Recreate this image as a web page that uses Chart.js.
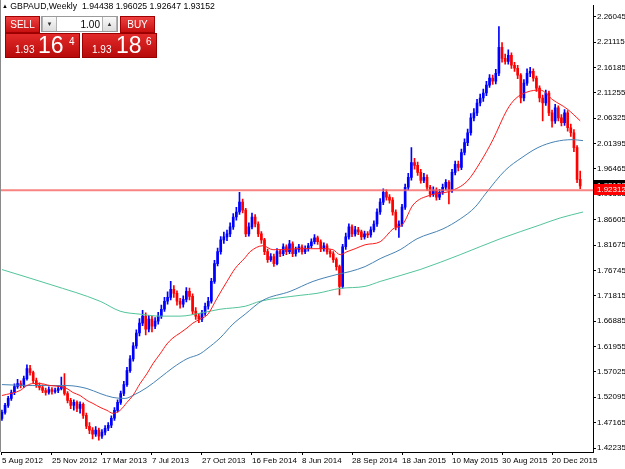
<!DOCTYPE html>
<html><head><meta charset="utf-8">
<script src="https://cdn.jsdelivr.net/npm/chart.js@4.4.1/dist/chart.umd.min.js"></script>
<style>
html,body{margin:0;padding:0;background:#fff;}
#wrap{position:relative;width:625px;height:469px;overflow:hidden;font-family:"Liberation Sans",Arial,sans-serif;}
canvas{position:absolute;left:0;top:0;}
.abs{position:absolute;white-space:pre;line-height:1;}
.title{left:2px;top:2px;font-size:8.7px;color:#000;}
.tri{font-size:6px;position:relative;top:-1px;}
.btn{position:absolute;background:linear-gradient(#ee4040,#c81010);border:1px solid #a00000;color:#fff;font-size:10px;text-align:center;box-sizing:border-box;}
.big{position:absolute;background:linear-gradient(#e32a2a,#b80a0a);border:1px solid #9a0000;box-sizing:border-box;}
.spin{position:absolute;background:#fff;border:1px solid #9a9a9a;box-sizing:border-box;}
.sb{position:absolute;top:0;height:100%;background:linear-gradient(#fafafa,#dcdcdc);border-left:1px solid #b0b0b0;border-right:1px solid #b0b0b0;box-sizing:border-box;font-size:6px;color:#333;text-align:center;line-height:14px;}
.w{color:#fff;position:absolute;line-height:1;white-space:pre;}
</style></head>
<body>
<div id="wrap">
<canvas id="c" width="625" height="469"></canvas>
<div class="abs title"><span class="tri">&#9650;</span> GBPAUD,Weekly  1.94438 1.96025 1.92647 1.93152</div>
<div class="btn" style="left:5px;top:16px;width:35px;height:17px;line-height:15px;">SELL</div>
<div class="spin" style="left:41px;top:16px;width:77px;height:16px;">
  <div class="sb" style="left:0;width:15px;">&#9660;</div>
  <div class="abs" style="right:17px;top:3px;font-size:10px;color:#000;">1.00</div>
  <div class="sb" style="right:0;width:15px;">&#9650;</div>
</div>
<div class="btn" style="left:120px;top:16px;width:35px;height:17px;line-height:15px;">BUY</div>
<div class="big" style="left:5px;top:33px;width:75px;height:25px;">
  <span class="w" style="left:9px;top:11px;font-size:10px;">1.93</span>
  <span class="w" style="left:32px;top:0px;font-size:23px;">16</span>
  <span class="w" style="left:63px;top:3px;font-size:10px;">4</span>
</div>
<div class="big" style="left:82px;top:33px;width:75px;height:25px;">
  <span class="w" style="left:9px;top:11px;font-size:10px;">1.93</span>
  <span class="w" style="left:33px;top:0px;font-size:23px;">18</span>
  <span class="w" style="left:63px;top:3px;font-size:10px;">6</span>
</div>
</div>
<script>
const dateLabels = ['5 Aug 2012','25 Nov 2012','17 Mar 2013','7 Jul 2013','27 Oct 2013','16 Feb 2014','8 Jun 2014','28 Sep 2014','18 Jan 2015','10 May 2015','30 Aug 2015','20 Dec 2015'];
const dateTickWeeks = [0,16,32,48,64,80,96,112,128,144,160,176];
const yTicks = [2.26045,2.21115,2.16185,2.11255,2.06325,2.01395,1.96465,1.91535,1.86605,1.81675,1.76745,1.71815,1.66885,1.61955,1.57025,1.52095,1.47165,1.42235];
const bidPrice = 1.93152;
const hLinePrice = 1.92312;

const opens = [
1.4800,1.4917,1.5052,1.5187,1.5302,1.5418,1.5476,1.5437,1.5572,1.5765,
1.5688,1.5533,1.5437,1.5399,1.5341,1.5302,1.5360,1.5322,1.5341,1.5379,
1.5418,1.5283,1.5148,1.5052,1.5110,1.4994,1.5071,1.4859,1.4647,1.4570,
1.4493,1.4570,1.4454,1.4531,1.4608,1.4666,1.4801,1.4955,1.5110,1.5283,
1.5456,1.5726,1.5957,1.6208,1.6458,1.6651,1.6786,1.6535,1.6728,1.6593,
1.6689,1.6786,1.6920,1.7075,1.7152,1.7306,1.7229,1.7075,1.7017,1.7113,
1.7267,1.7171,1.6882,1.6786,1.6728,1.6843,1.6978,1.7075,1.7460,1.7807,
1.8038,1.8269,1.8327,1.8385,1.8520,1.8712,1.8809,1.9001,1.8847,1.8385,
1.8520,1.8712,1.8577,1.8385,1.8269,1.8038,1.7884,1.7942,1.7807,1.8038,
1.7999,1.8134,1.8038,1.8192,1.7999,1.8077,1.8134,1.8038,1.8096,1.8154,
1.8231,1.8308,1.8231,1.8096,1.8154,1.8038,1.7999,1.7884,1.7749,1.7364,
1.8134,1.8327,1.8520,1.8385,1.8462,1.8423,1.8327,1.8385,1.8366,1.8462,
1.8577,1.8809,1.9001,1.9194,1.9098,1.9040,1.8809,1.8520,1.8577,1.8905,
1.9290,1.9483,1.9772,1.9714,1.9579,1.9425,1.9483,1.9290,1.9156,1.9233,
1.9098,1.9194,1.9290,1.9387,1.9233,1.9579,1.9734,1.9676,1.9965,2.0158,
2.0350,2.0639,2.0736,2.0928,2.1025,2.1121,2.1275,2.1410,2.1352,2.1506,
2.2008,2.1795,2.1737,2.1853,2.1660,2.1603,2.1468,2.1025,2.1314,2.1506,
2.1545,2.1410,2.1217,2.1025,2.0928,2.1121,2.0736,2.0581,2.0832,2.0639,
2.0543,2.0736,2.0447,2.0350,2.0061,1.9444];
const highs = [
1.4960,1.5090,1.5230,1.5350,1.5470,1.5560,1.5530,1.5620,1.5842,1.5830,
1.5720,1.5580,1.5490,1.5450,1.5390,1.5410,1.5400,1.5390,1.5430,1.5600,
1.5668,1.5320,1.5190,1.5160,1.5140,1.5120,1.5100,1.4900,1.4720,1.4620,
1.4640,1.4610,1.4580,1.4660,1.4720,1.4850,1.5010,1.5160,1.5330,1.5520,
1.5790,1.6020,1.6270,1.6520,1.6740,1.6900,1.6850,1.6800,1.6780,1.6760,
1.6860,1.7000,1.7150,1.7260,1.7460,1.7380,1.7280,1.7130,1.7180,1.7340,
1.7330,1.7220,1.6950,1.6840,1.6900,1.7040,1.7150,1.7520,1.7870,1.8110,
1.8330,1.8420,1.8460,1.8600,1.8780,1.8900,1.9194,1.9060,1.8880,1.8600,
1.8790,1.8760,1.8620,1.8430,1.8300,1.8090,1.8000,1.7990,1.8100,1.8080,
1.8190,1.8170,1.8260,1.8230,1.8130,1.8180,1.8170,1.8150,1.8200,1.8290,
1.8370,1.8340,1.8270,1.8210,1.8190,1.8080,1.8040,1.7920,1.7780,1.8180,
1.8400,1.8580,1.8560,1.8530,1.8510,1.8460,1.8440,1.8430,1.8520,1.8640,
1.8870,1.9070,1.9260,1.9240,1.9150,1.9090,1.8850,1.8640,1.8960,1.9350,
1.9560,2.0061,1.9850,1.9780,1.9640,1.9560,1.9530,1.9330,1.9300,1.9280,
1.9250,1.9350,1.9440,1.9420,1.9640,1.9800,1.9800,2.0030,2.0230,2.0420,
2.0720,2.0820,2.1000,2.1100,2.1200,2.1350,2.1480,2.1470,2.1580,2.2412,
2.2100,2.1880,2.1960,2.1900,2.1720,2.1660,2.1500,2.1380,2.1590,2.1620,
2.1590,2.1450,2.1260,2.1080,2.1180,2.1160,2.0790,2.0900,2.0870,2.0700,
2.0800,2.0780,2.0520,2.0410,2.0100,1.9603];
const lows = [
1.4760,1.4880,1.5010,1.5150,1.5260,1.5380,1.5390,1.5400,1.5540,1.5640,
1.5490,1.5400,1.5350,1.5300,1.5250,1.5270,1.5270,1.5290,1.5300,1.5350,
1.5250,1.5100,1.4990,1.4960,1.4930,1.4900,1.4800,1.4600,1.4500,1.4400,
1.4450,1.4377,1.4410,1.4480,1.4560,1.4620,1.4760,1.4920,1.5070,1.5240,
1.5420,1.5690,1.5910,1.6160,1.6400,1.6600,1.6420,1.6480,1.6480,1.6540,
1.6630,1.6740,1.6880,1.7020,1.7100,1.7150,1.7000,1.6940,1.6960,1.7060,
1.7100,1.6820,1.6720,1.6660,1.6680,1.6800,1.6920,1.7040,1.7420,1.7760,
1.7990,1.8200,1.8250,1.8330,1.8470,1.8650,1.8760,1.8790,1.8330,1.8340,
1.8480,1.8520,1.8330,1.8200,1.7980,1.7830,1.7850,1.7750,1.7780,1.7940,
1.7960,1.7980,1.8000,1.7940,1.7950,1.8030,1.7990,1.8000,1.8050,1.8110,
1.8190,1.8180,1.8040,1.8050,1.7990,1.7930,1.7830,1.7680,1.7200,1.7330,
1.8080,1.8280,1.8330,1.8340,1.8370,1.8270,1.8280,1.8310,1.8320,1.8420,
1.8530,1.8760,1.8950,1.9040,1.8980,1.8750,1.8460,1.8316,1.8530,1.8860,
1.9240,1.9430,1.9640,1.9520,1.9370,1.9380,1.9230,1.9100,1.9110,1.9040,
1.9050,1.9150,1.9240,1.8964,1.9190,1.9530,1.9610,1.9630,1.9920,2.0100,
2.0300,2.0580,2.0680,2.0870,2.0960,2.1070,2.1230,2.1290,2.1300,2.1460,
2.1720,2.1680,2.1680,2.1600,2.1540,2.1400,2.0930,2.0970,2.1270,2.1440,
2.1350,2.1150,2.0950,2.0581,2.0880,2.0680,2.0460,2.0530,2.0580,2.0480,
2.0490,2.0380,2.0280,1.9980,1.9380,1.9265];
const closes = [
1.4917,1.5052,1.5187,1.5302,1.5418,1.5476,1.5437,1.5572,1.5765,1.5688,
1.5533,1.5437,1.5399,1.5341,1.5302,1.5360,1.5322,1.5341,1.5379,1.5418,
1.5283,1.5148,1.5052,1.5110,1.4994,1.5071,1.4859,1.4647,1.4570,1.4493,
1.4570,1.4454,1.4531,1.4608,1.4666,1.4801,1.4955,1.5110,1.5283,1.5456,
1.5726,1.5957,1.6208,1.6458,1.6651,1.6786,1.6535,1.6728,1.6593,1.6689,
1.6786,1.6920,1.7075,1.7152,1.7306,1.7229,1.7075,1.7017,1.7113,1.7267,
1.7171,1.6882,1.6786,1.6728,1.6843,1.6978,1.7075,1.7460,1.7807,1.8038,
1.8269,1.8327,1.8385,1.8520,1.8712,1.8809,1.9001,1.8847,1.8385,1.8520,
1.8712,1.8577,1.8385,1.8269,1.8038,1.7884,1.7942,1.7807,1.8038,1.7999,
1.8134,1.8038,1.8192,1.7999,1.8077,1.8134,1.8038,1.8096,1.8154,1.8231,
1.8308,1.8231,1.8096,1.8154,1.8038,1.7999,1.7884,1.7749,1.7364,1.8134,
1.8327,1.8520,1.8385,1.8462,1.8423,1.8327,1.8385,1.8366,1.8462,1.8577,
1.8809,1.9001,1.9194,1.9098,1.9040,1.8809,1.8520,1.8577,1.8905,1.9290,
1.9483,1.9772,1.9714,1.9579,1.9425,1.9483,1.9290,1.9156,1.9233,1.9098,
1.9194,1.9290,1.9387,1.9233,1.9579,1.9734,1.9676,1.9965,2.0158,2.0350,
2.0639,2.0736,2.0928,2.1025,2.1121,2.1275,2.1410,2.1352,2.1506,2.2008,
2.1795,2.1737,2.1853,2.1660,2.1603,2.1468,2.1025,2.1314,2.1506,2.1545,
2.1410,2.1217,2.1025,2.0928,2.1121,2.0736,2.0581,2.0832,2.0639,2.0543,
2.0736,2.0447,2.0350,2.0061,1.9444,1.9315];

// moving averages as [week index, value]
const maFast = [[0,1.5244],[5.8,1.5341],[8,1.5437],[9.9,1.5476],[12.2,1.5476],[15.4,1.5437],[18.6,1.5418],[20.8,1.5379],[22.7,1.5302],[25,1.5244],[27.2,1.5148],[29.1,1.5090],[31.4,1.5013],[33.6,1.4955],[35.5,1.4897],[37.8,1.4955],[40,1.5110],[41.9,1.5244],[44.2,1.5476],[46.4,1.5668],[48.3,1.5861],[50.6,1.6053],[52.8,1.6246],[54.7,1.6362],[57,1.6458],[59.2,1.6555],[61.1,1.6651],[63.4,1.6728],[65.9,1.6824],[68.8,1.7133],[72,1.7460],[74.6,1.7711],[77.8,1.7922],[79.4,1.8038],[83.5,1.8154],[86.7,1.8077],[89.9,1.8077],[94.4,1.8096],[98.6,1.8096],[102.7,1.8096],[105.9,1.8077],[108.2,1.7980],[110.4,1.8038],[113,1.8096],[116.2,1.8173],[121,1.8231],[125.1,1.8480],[128.3,1.8578],[131.5,1.8944],[137,1.9137],[143.4,1.9214],[148.8,1.9406],[153,1.9772],[157.1,2.0216],[161.6,2.0793],[164.2,2.1005],[168,2.1140],[172.2,2.1179],[176.3,2.0986],[180.8,2.0813],[185,2.0582]];
const maMid = [[0,1.5456],[9.9,1.5437],[20.8,1.5437],[27.2,1.5379],[31.4,1.5283],[35.5,1.5206],[39.4,1.5187],[41.9,1.5244],[46.4,1.5399],[50.6,1.5591],[54.7,1.5784],[59.2,1.5957],[63.4,1.6053],[65.6,1.6150],[69.8,1.6362],[73.9,1.6631],[77.8,1.6824],[83.5,1.7094],[92.2,1.7267],[99.5,1.7460],[107.2,1.7595],[111.4,1.7653],[116.2,1.7749],[121,1.7903],[127.4,1.8077],[132.8,1.8289],[141.1,1.8481],[146.6,1.8674],[151.4,1.8905],[154.6,1.9155],[161,1.9618],[166.4,1.9869],[171.5,2.0061],[177,2.0177],[182.4,2.0215],[185.9,2.0196]];
const maSlow = [[0,1.7691],[15.4,1.7402],[31.4,1.7075],[37.8,1.6882],[44.2,1.6824],[50.6,1.6786],[57,1.6786],[63.4,1.6843],[69.8,1.6920],[77.8,1.6978],[82.6,1.7075],[95.4,1.7190],[100.8,1.7229],[108.2,1.7325],[116.2,1.7364],[121,1.7460],[133.8,1.7691],[146.6,1.7980],[159.4,1.8289],[172.2,1.8559],[178.6,1.8694],[185.9,1.8809]];

const upColor = '#0000ff', downColor = '#ff0000';
const candleColors = closes.map((c,i)=> c >= opens[i] ? upColor : downColor);
const wickData = closes.map((c,i)=>({x:i, y:[lows[i], highs[i]]}));
const bodyData = closes.map((c,i)=>({x:i, y:[opens[i], c]}));
const pts = a => a.map(p=>({x:p[0], y:p[1]}));

const FONT = {family:'"Liberation Sans", Arial, sans-serif', size:8};

const overlay = {
  id:'overlay',
  beforeDraw(chart){
    const ctx = chart.ctx;
    ctx.save(); ctx.fillStyle = '#fff'; ctx.fillRect(0,0,chart.width,chart.height); ctx.restore();
  },
  afterDraw(chart){
    const ctx = chart.ctx, ys = chart.scales.y, ca = chart.chartArea;
    ctx.save();
    ctx.fillStyle = '#8a8a8a';
    ctx.fillRect(0, 0, 1, ca.bottom);
    const box = (val, bg) => {
      const py = Math.round(ys.getPixelForValue(val));
      ctx.fillStyle = bg;
      ctx.fillRect(ca.right + 1, py - 6, chart.width - ca.right - 1, 11);
      ctx.fillStyle = '#fff';
      ctx.font = '8px "Liberation Sans", Arial, sans-serif';
      ctx.textBaseline = 'middle'; ctx.textAlign = 'left';
      ctx.fillText(val.toFixed(5), ca.right + 4, py);
    };
    box(bidPrice, '#000');
    box(hLinePrice, '#ff0000');
    ctx.restore();
  }
};

new Chart(document.getElementById('c'), {
  type: 'bar',
  data: { datasets: [
    {type:'line', data:[{x:-1,y:hLinePrice},{x:190,y:hLinePrice}], borderColor:'rgba(245,100,100,0.8)', borderWidth:2, pointRadius:0, order:0},
    {type:'line', data:pts(maFast), borderColor:'#ff1a1a', borderWidth:1, pointRadius:0, cubicInterpolationMode:'monotone', order:1},
    {type:'line', data:pts(maMid), borderColor:'#4682b4', borderWidth:1, pointRadius:0, cubicInterpolationMode:'monotone', order:1},
    {type:'line', data:pts(maSlow), borderColor:'#52c49a', borderWidth:1, pointRadius:0, cubicInterpolationMode:'monotone', order:1},
    {type:'bar', data:bodyData, backgroundColor:candleColors, barThickness:2, minBarLength:1, grouped:false, borderWidth:0, order:2},
    {type:'bar', data:wickData, backgroundColor:candleColors, barThickness:1, grouped:false, borderWidth:0, order:3}
  ]},
  options: {
    responsive:false, animation:false, devicePixelRatio:1,
    layout:{padding:{left:1, top:2, right:0, bottom:0}},
    plugins:{legend:{display:false}, tooltip:{enabled:false}},
    scales:{
      x:{
        type:'linear', min:-0.3, max:189.1, offset:false,
        afterBuildTicks: s => { s.ticks = dateTickWeeks.map(v=>({value:v})); },
        afterFit: s => { s.height = 17; },
        ticks:{callback:(v,i)=>dateLabels[i], align:'start', maxRotation:0, minRotation:0, autoSkip:false, font:FONT, color:'#000', padding:1},
        grid:{drawOnChartArea:false, drawTicks:true, tickLength:3, color:'#000', offset:false},
        border:{display:true, color:'#000', width:1}
      },
      y:{
        type:'linear', position:'right', min:1.4146, max:2.2816,
        afterBuildTicks: s => { s.ticks = yTicks.map(v=>({value:v})); },
        afterFit: s => { s.width = 32; },
        ticks:{callback:v=>v.toFixed(5), autoSkip:false, font:FONT, color:'#000', padding:1},
        grid:{drawOnChartArea:false, drawTicks:true, tickLength:3, color:'#000'},
        border:{display:true, color:'#000', width:1}
      }
    }
  },
  plugins:[overlay]
});
</script>
</body></html>
